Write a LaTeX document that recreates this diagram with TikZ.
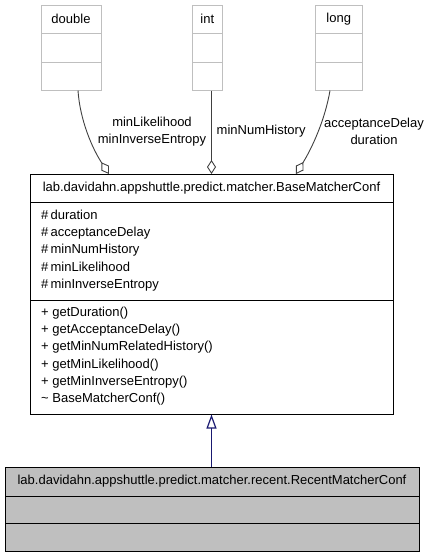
\documentclass[tikz,border=0pt]{standalone}
\usepackage{fontspec}
\setmainfont{Liberation Sans}
\usepackage{tikz}
\usetikzlibrary{arrows.meta}
\definecolor{boxgray}{RGB}{191,191,191}
\definecolor{edgegray}{RGB}{64,64,64}
\definecolor{inheritblue}{RGB}{25,25,112}

\begin{document}
\begin{tikzpicture}[x=1pt,y=1pt,yscale=-1,
    font=\fontsize{13}{17.3}\selectfont,
    typebox/.style={draw=boxgray, line width=1pt, minimum width=#1, minimum height=85pt, inner sep=0pt},
    classbox/.style={draw=black, line width=1pt, inner sep=0pt},
    member/.style={anchor=north west, inner sep=0pt, align=left},
    lbl/.style={inner sep=0pt, align=center},
    aggr/.style={draw=edgegray, line width=0.9pt, -{Diamond[open, length=14pt, width=9pt, line width=0.9pt]}},
    inherit/.style={draw=inheritblue, line width=1.2pt, -{Triangle[open, length=14pt, width=10pt, line width=1.2pt]}}]
    \useasboundingbox (0,0) rectangle (432,557); %page size of the reference

    %Type boxes
    \node [typebox=60pt] (dbl) at (71,47.5) {};
    \draw [boxgray, line width=1pt] (41,33) -- (101,33) (41,62) -- (101,62) ;
    \node (dbltxt) at (71,19) {double};
    \node [typebox=30pt] (int) at (207.3,47.5) {};
    \draw [boxgray, line width=1pt] (192.3,33) -- (222.3,33) (192.3,62) -- (222.3,62) ;
    \node (inttxt) at (207.3,19) {int};
    \node [typebox=47pt] (lng) at (338.7,47.5) {};
    \draw [boxgray, line width=1pt] (315.2,33) -- (362.2,33) (315.2,62) -- (362.2,62) ;
    \node (lngtxt) at (338.7,19) {long};

    %Base class
    \node [classbox, minimum width=363pt, minimum height=239.5pt] (base) at (211.5,294.25) {};
    \draw [line width=1pt] (30,202) -- (393,202) (30,300) -- (393,300) ;
    \node (basetitle) at (211.5,188) {lab.davidahn.appshuttle.predict.matcher.BaseMatcherConf};
    % Text Node
    \node [member] (baseattr) at (41,209.5) {\#\,duration\\\#\,acceptanceDelay\\\#\,minNumHistory\\\#\,minLikelihood\\\#\,minInverseEntropy};
    % Text Node
    \node [member] (baseops) at (41,306.5) {+ getDuration()\\+ getAcceptanceDelay()\\+ getMinNumRelatedHistory()\\+ getMinLikelihood()\\+ getMinInverseEntropy()\\\textasciitilde\ BaseMatcherConf()};

    %Derived class
    \node [classbox, fill=boxgray, minimum width=414pt, minimum height=84pt] (recent) at (212,509) {};
    \draw [line width=1pt] (5,496) -- (419,496) (5,523) -- (419,523) ;
    \node (recenttitle) at (212,481.5) {lab.davidahn.appshuttle.predict.matcher.recent.RecentMatcherConf};

    %Aggregation connectors
    \draw [aggr] ([xshift=7pt]dbl.south) .. controls (80,120) and (92,148) .. ([xshift=-102.5pt]base.north) ;
    \draw [aggr] (int.south -| base.north) -- (base.north) ;
    \draw [aggr] ([xshift=-8.7pt]lng.south) .. controls (325,120) and (312,148) .. ([xshift=84.5pt]base.north) ;
    \node [lbl] (dbllbl) at (152,131.5) {minLikelihood\\minInverseEntropy};
    \node [lbl, anchor=west] (intlbl) at (216.5,131) {minNumHistory};
    \node [lbl] (lnglbl) at (374,131.5) {acceptanceDelay\\duration};

    %Inheritance
    \draw [inherit] (recent.north -| base.south) -- (base.south) ;
\end{tikzpicture}
\end{document}
